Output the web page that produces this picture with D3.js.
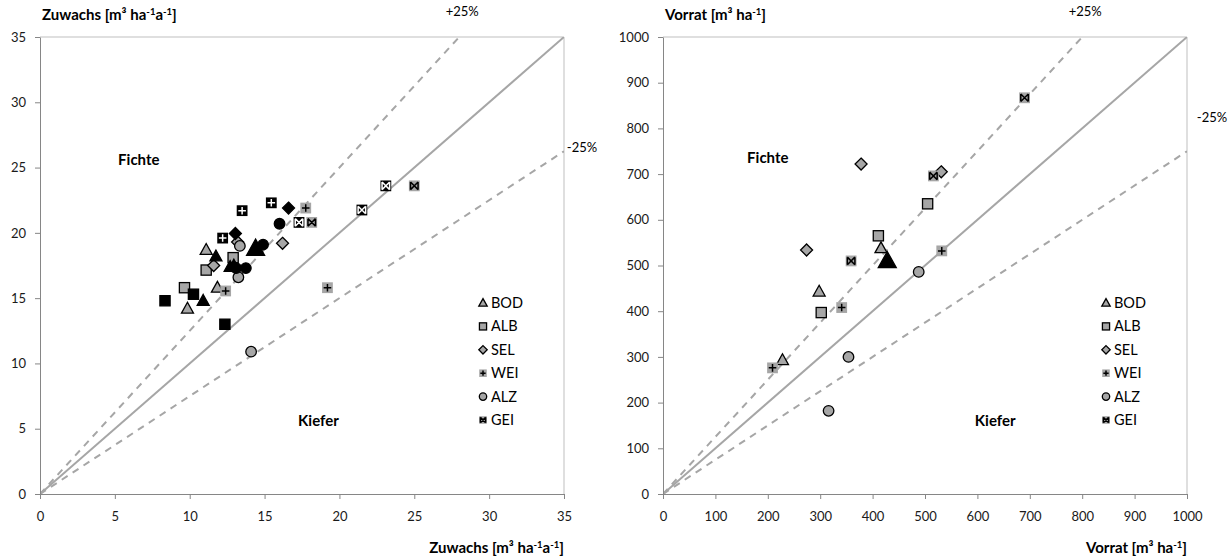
<!doctype html>
<html>
<head>
<meta charset="UTF-8">
<title>Zuwachs und Vorrat</title>
<style>
body { margin: 0; background: #fff; }
svg text { font-family: Lato, "Open Sans", sans-serif; }
</style>
</head>
<body>
<div id="chart"></div>
<script src="https://cdn.jsdelivr.net/npm/d3@7"></script>
<script>
// Standorte (Legende)
const sites = ["BOD", "ALB", "SEL", "WEI", "ALZ", "GEI"];

// Zuwachs [x, y] – grau und schwarz
const zuwachsGrau = [
  ["BOD", 11.1, 18.7], ["BOD", 11.85, 15.8], ["BOD", 9.85, 14.2],
  ["ALB", 12.9, 18.1], ["ALB", 11.1, 17.15], ["ALB", 9.65, 15.8],
  ["SEL", 11.6, 17.5], ["SEL", 16.2, 19.2], ["SEL", 13.2, 19.3],
  ["WEI", 17.75, 21.9], ["WEI", 12.4, 15.55], ["WEI", 19.2, 15.8],
  ["ALZ", 13.35, 19.0], ["ALZ", 13.25, 16.6], ["ALZ", 14.1, 10.9],
  ["GEI", 18.15, 20.8], ["GEI", 25.0, 23.6]
];
const zuwachsSchwarz = [
  ["BOD", 11.75, 18.2], ["BOD", 10.9, 14.8], ["BOD", 12.7, 17.4], ["BOD", 12.95, 17.5],
  ["ALB", 10.25, 15.3], ["ALB", 8.35, 14.8], ["ALB", 12.35, 13.0],
  ["SEL", 13.05, 19.95], ["SEL", 16.6, 21.9],
  ["WEI", 13.5, 21.7], ["WEI", 15.45, 22.3], ["WEI", 12.2, 19.6],
  ["ALZ", 16.0, 20.7], ["ALZ", 14.9, 19.1], ["ALZ", 13.1, 17.3], ["ALZ", 13.75, 17.3],
  ["GEI", 17.3, 20.8], ["GEI", 21.5, 21.75], ["GEI", 23.1, 23.6]
];
const zuwachsGross = [["BOD", 14.4, 18.8]];

// Vorrat [x, y]
const vorratGrau = [
  ["BOD", 228, 293], ["BOD", 298, 443], ["BOD", 416, 538],
  ["ALB", 302, 397], ["ALB", 411, 565], ["ALB", 505, 635],
  ["SEL", 274, 534], ["SEL", 378, 722], ["SEL", 531, 705],
  ["WEI", 209, 276], ["WEI", 341, 408], ["WEI", 532, 532],
  ["ALZ", 316, 182], ["ALZ", 354, 300], ["ALZ", 488, 486],
  ["GEI", 359, 510], ["GEI", 516, 696], ["GEI", 690, 867]
];
const vorratSchwarz = [];
const vorratGross = [["BOD", 428, 510]];

const zuwachsTicks = [0, 5, 10, 15, 20, 25, 30, 35];
const vorratTicks = [0, 100, 200, 300, 400, 500, 600, 700, 800, 900, 1000];
const faktoren = [1.25, 1, 0.75];

const svg = d3.select("#chart").append("svg")
  .attr("width", 1231).attr("height", 557);

const GRAU = "#a6a6a6";

function marker(g, site, dunkel, h) {
  const fill = dunkel ? "#000" : GRAU;
  const inner = dunkel ? "#fff" : "#000";
  if (site === "BOD") {
    g.append("path").attr("d", `M0,${-h * 1.05}L${h},${h * 0.75}L${-h},${h * 0.75}Z`)
      .attr("fill", fill).attr("stroke", "#000").attr("stroke-width", 1.3);
  } else if (site === "ALB") {
    g.append("rect").attr("x", -h * 0.85).attr("y", -h * 0.85)
      .attr("width", h * 1.7).attr("height", h * 1.7)
      .attr("fill", fill).attr("stroke", "#000").attr("stroke-width", 1.3);
  } else if (site === "SEL") {
    g.append("path").attr("d", `M0,${-h}L${h},0L0,${h}L${-h},0Z`)
      .attr("fill", fill).attr("stroke", "#000").attr("stroke-width", 1.3);
  } else if (site === "ALZ") {
    g.append("circle").attr("r", h * 0.88)
      .attr("fill", fill).attr("stroke", "#000").attr("stroke-width", 1.3);
  } else {
    const s = h * 0.9;
    g.append("rect").attr("x", -s).attr("y", -s).attr("width", 2 * s).attr("height", 2 * s)
      .attr("fill", fill);
    const a = s * 0.7;
    let d;
    if (site === "WEI") d = `M${-a},0L${a},0M0,${-a}L0,${a}`;
    else d = `M${-a},${-a}L${a},${a}M${a},${-a}L${-a},${a}M${-a},${-a}L${-a},${a}M${a},${-a}L${a},${a}`;
    g.append("path").attr("d", d).attr("stroke", inner).attr("stroke-width", 1.5).attr("fill", "none");
  }
}

// Titel mit hochgestellten Exponenten
function einheit(t, teile) {
  let oben = false;
  teile.forEach(([s, hoch]) => {
    const sp = t.append("tspan").text(s);
    if (hoch) {
      sp.attr("font-size", 9.5).attr("dy", oben ? 0 : -5);
      oben = true;
    } else {
      if (oben) sp.attr("dy", 5);
      oben = false;
    }
  });
}

function panel(cfg) {
  const g = svg.append("g");
  const top = 37, bottom = 494;
  const x = d3.scaleLinear().domain([0, cfg.max]).range([cfg.left, cfg.right]);
  const y = d3.scaleLinear().domain([0, cfg.max]).range([bottom, top]);

  const clipId = "clip" + cfg.left;
  svg.append("clipPath").attr("id", clipId).append("rect")
    .attr("x", cfg.left).attr("y", top).attr("width", cfg.right - cfg.left).attr("height", bottom - top);

  // Rahmen
  g.append("path")
    .attr("d", `M${cfg.left},${top}H${cfg.right}V${bottom}`)
    .attr("fill", "none").attr("stroke", "#bfbfbf").attr("stroke-width", 1);

  // Diagonalen
  const lg = g.append("g").attr("clip-path", `url(#${clipId})`);
  faktoren.forEach(k => {
    lg.append("line")
      .attr("x1", x(0)).attr("y1", y(0))
      .attr("x2", x(cfg.max)).attr("y2", y(cfg.max * k))
      .attr("stroke", GRAU).attr("stroke-width", 2)
      .attr("stroke-dasharray", k === 1 ? null : "7,6");
  });

  // Achsen
  const fmt = d3.format("d");
  const ax = g.append("g").attr("transform", `translate(0,${bottom})`)
    .call(d3.axisBottom(x).tickValues(cfg.ticks).tickFormat(fmt).tickSize(5).tickPadding(13).tickSizeOuter(0));
  const ay = g.append("g").attr("transform", `translate(${cfg.left},0)`)
    .call(d3.axisLeft(y).tickValues(cfg.ticks).tickFormat(fmt).tickSize(5).tickPadding(9).tickSizeOuter(0));
  [ax, ay].forEach(a => {
    a.select(".domain").attr("stroke", "#868686");
    a.selectAll(".tick line").attr("stroke", "#868686");
    a.selectAll(".tick text").attr("font-size", 13).attr("fill", "#1a1a1a");
  });

  // Achsentitel
  const t1 = g.append("text").attr("x", cfg.left + 2).attr("y", 20)
    .attr("font-size", 15).attr("font-weight", "bold");
  einheit(t1, cfg.titel);
  const t2 = g.append("text").attr("x", cfg.right).attr("y", 553)
    .attr("text-anchor", "end").attr("font-size", 15).attr("font-weight", "bold");
  einheit(t2, cfg.titel);

  // Beschriftungen
  g.append("text").attr("x", x(cfg.max / 1.25) + 3).attr("y", 16)
    .attr("text-anchor", "middle").attr("font-size", 13).text("+25%");
  g.append("text").attr("x", cfg.right + cfg.minusDx).attr("y", y(cfg.max * 0.75) + cfg.minusDy)
    .attr("text-anchor", "middle").attr("font-size", 13).text("-25%");
  g.append("text").attr("x", x(cfg.fichte[0])).attr("y", y(cfg.fichte[1]) + 5)
    .attr("text-anchor", "middle").attr("font-size", 15).attr("font-weight", "bold").text("Fichte");
  g.append("text").attr("x", x(cfg.kiefer[0])).attr("y", y(cfg.kiefer[1]) + 5)
    .attr("text-anchor", "middle").attr("font-size", 15).attr("font-weight", "bold").text("Kiefer");

  // Punkte
  const pts = g.append("g");
  const zeichne = (data, dunkel, h) => data.forEach(([s, vx, vy]) => {
    const m = pts.append("g").attr("transform", `translate(${x(vx)},${y(vy)})`);
    marker(m, s, dunkel, h);
  });
  zeichne(cfg.grau, false, 6);
  zeichne(cfg.schwarz, true, 6);
  zeichne(cfg.gross, true, 9);

  // Legende
  const leg = g.append("g");
  sites.forEach((s, i) => {
    const yy = 303 + i * 23.4;
    const m = leg.append("g").attr("transform", `translate(${cfg.left + 443},${yy})`);
    marker(m, s, false, 4.2);
    leg.append("text").attr("x", cfg.left + 451).attr("y", yy + 5)
      .attr("font-size", 14.5).text(s);
  });
}

panel({
  left: 40, right: 564, max: 35, ticks: zuwachsTicks,
  grau: zuwachsGrau, schwarz: zuwachsSchwarz, gross: zuwachsGross,
  titel: [["Zuwachs [m³ ha", false], ["-1", true], ["a", false], ["-1", true], ["]", false]],
  fichte: [6.6, 25.6], kiefer: [18.6, 5.6], minusDx: 18, minusDy: 1
});
panel({
  left: 663, right: 1187, max: 1000, ticks: vorratTicks,
  grau: vorratGrau, schwarz: vorratSchwarz, gross: vorratGross,
  titel: [["Vorrat [m³ ha", false], ["-1", true], ["]", false]],
  fichte: [200, 735], kiefer: [634, 160], minusDx: 25, minusDy: -29
});
</script>
</body>
</html>
